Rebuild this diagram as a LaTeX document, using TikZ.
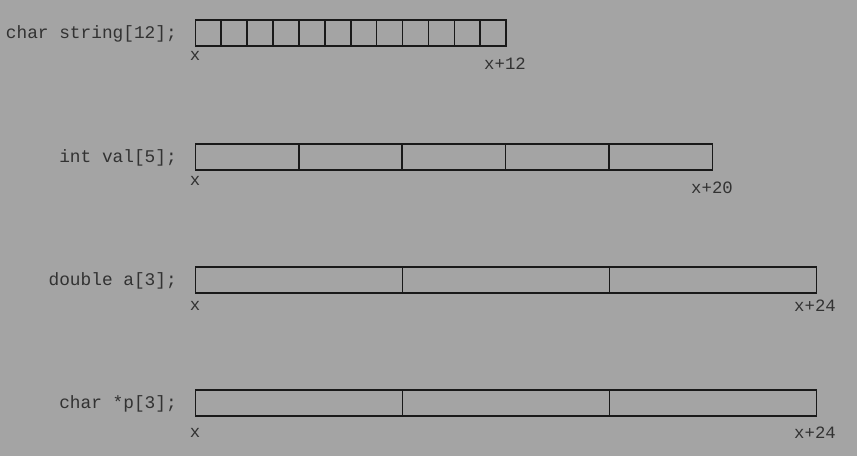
\documentclass[tikz,border=0pt]{standalone}
\usepackage{fontspec}
\setmonofont{Liberation Mono}
\definecolor{bg}{RGB}{164,164,164}
\definecolor{txt}{RGB}{50,50,50}
\begin{document}
\begin{tikzpicture}[x=1pt,y=-1pt,
  cell/.style={draw=black!90,line width=1.6pt,inner sep=0pt,anchor=north west,minimum height=26pt},
  decl/.style={anchor=east,inner sep=0pt,text=txt,font=\ttfamily\fontsize{17.8}{20}\selectfont},
  addr/.style={anchor=center,inner sep=0pt,text=txt,font=\ttfamily\fontsize{17.3}{19}\selectfont}]
\fill[bg] (0,0) rectangle (857,456);
\useasboundingbox (0,0) rectangle (857,456);
% row 1
\foreach \i in {0,...,11}{
  \node[cell,minimum width=25.9pt] (s\i) at ({194.5+25.9*\i},19) {};
}
\node[decl] (l1) at (177,34) {char string[12];};
\node[addr] (a1) at (195,56) {x};
\node[addr] (b1) at (505,64) {x+12};
% row 2
\foreach \i in {0,...,4}{
  \node[cell,minimum width=103.4pt] (v\i) at ({194.5+103.4*\i},143) {};
}
\node[decl] (l2) at (177,158) {int val[5];};
\node[addr] (a2) at (195,181) {x};
\node[addr] (b2) at (712,188) {x+20};
% row 3
\foreach \i in {0,...,2}{
  \node[cell,minimum width=207pt] (d\i) at ({194.5+207*\i},266) {};
}
\node[decl] (l3) at (177,281) {double a[3];};
\node[addr] (a3) at (195,306) {x};
\node[addr] (b3) at (815,306) {x+24};
% row 4
\foreach \i in {0,...,2}{
  \node[cell,minimum width=207pt] (p\i) at ({194.5+207*\i},389) {};
}
\node[decl] (l4) at (177,404) {char *p[3];};
\node[addr] (a4) at (195,433) {x};
\node[addr] (b4) at (815,433) {x+24};
\end{tikzpicture}
\end{document}
